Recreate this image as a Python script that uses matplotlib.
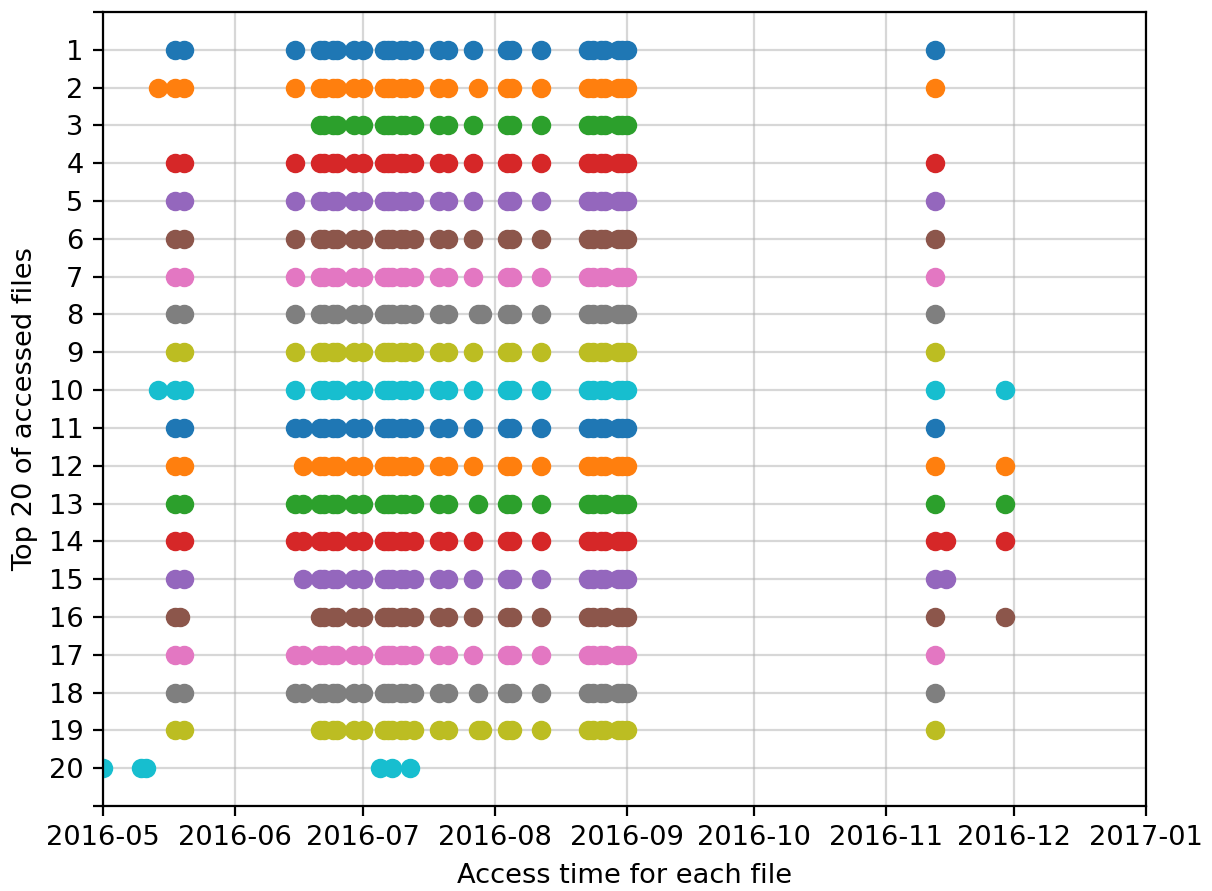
import matplotlib
matplotlib.use("Agg")
import matplotlib.pyplot as plt
import matplotlib.dates as mdates
import pandas as pd

# access sessions (dates)
may_a = ["2016-05-18", "2016-05-20"]
may_b = ["2016-05-14", "2016-05-18", "2016-05-20"]
may_c = ["2016-05-18", "2016-05-19"]
jun_a = ["2016-06-15"]
jun_b = ["2016-06-15", "2016-06-17"]
jun_c = ["2016-06-17"]
summer = ["2016-06-21", "2016-06-22", "2016-06-24", "2016-06-25",
          "2016-06-29", "2016-07-01",
          "2016-07-06", "2016-07-07", "2016-07-08", "2016-07-10", "2016-07-11", "2016-07-13",
          "2016-07-19", "2016-07-21",
          "2016-08-04", "2016-08-05",
          "2016-08-12",
          "2016-08-23", "2016-08-24", "2016-08-26", "2016-08-27",
          "2016-08-30", "2016-08-31", "2016-09-01"]
jul_a = ["2016-07-27"]
jul_b = ["2016-07-28"]
jul_c = ["2016-07-28", "2016-07-29"]
nov_a = ["2016-11-12T12:00"]
nov_b = ["2016-11-12T12:00", "2016-11-29"]
nov_c = ["2016-11-12T12:00", "2016-11-15", "2016-11-29"]
nov_d = ["2016-11-12T12:00", "2016-11-15"]
file20 = ["2016-05-01", "2016-05-10", "2016-05-11",
          "2016-07-05", "2016-07-08", "2016-07-12"]

# which sessions each of the top 20 files shows up in
files = [
    may_a + jun_a + summer + jul_a + nov_a,   # 1
    may_b + jun_a + summer + jul_b + nov_a,   # 2
    summer + jul_a,                           # 3
    may_a + jun_a + summer + jul_a + nov_a,   # 4
    may_a + jun_a + summer + jul_a + nov_a,   # 5
    may_a + jun_a + summer + jul_a + nov_a,   # 6
    may_a + jun_a + summer + jul_a + nov_a,   # 7
    may_a + jun_a + summer + jul_c + nov_a,   # 8
    may_a + jun_a + summer + jul_a + nov_a,   # 9
    may_b + jun_a + summer + jul_a + nov_b,   # 10
    may_a + jun_b + summer + jul_a + nov_a,   # 11
    may_a + jun_c + summer + jul_a + nov_b,   # 12
    may_a + jun_b + summer + jul_b + nov_b,   # 13
    may_a + jun_b + summer + jul_a + nov_c,   # 14
    may_a + jun_c + summer + jul_a + nov_d,   # 15
    may_c + summer + jul_a + nov_b,           # 16
    may_a + jun_b + summer + jul_a + nov_a,   # 17
    may_a + jun_b + summer + jul_b + nov_a,   # 18
    may_a + summer + jul_c + nov_a,           # 19
    file20,                                   # 20
]
ylabels = [str(i) for i in range(1, 21)]

plt.rcParams["font.size"] = 9.8

fig = plt.figure(figsize=(6.06, 4.455), dpi=200)
ax = fig.add_axes([0.085, 0.0954, 0.8605, 0.8911])

for i, dates in enumerate(files):
    d = pd.to_datetime(dates, format="ISO8601")
    ax.plot(d, [i + 1] * len(d), "o", color="C%d" % (i % 10))

ax.set_xlim(pd.Timestamp("2016-05-01"), pd.Timestamp("2017-01-01"))
ax.xaxis.set_major_locator(mdates.MonthLocator())
ax.xaxis.set_major_formatter(mdates.DateFormatter("%Y-%m"))

ax.set_yticks(range(0, 22))
ax.set_yticklabels([""] + ylabels + [""])
ax.set_ylim(21, 0)

ax.grid(True, alpha=0.5)
ax.set_axisbelow(True)
ax.set_xlabel("Access time for each file")
ax.set_ylabel("Top 20 of accessed files")

fig.savefig("out.png", dpi=200)
